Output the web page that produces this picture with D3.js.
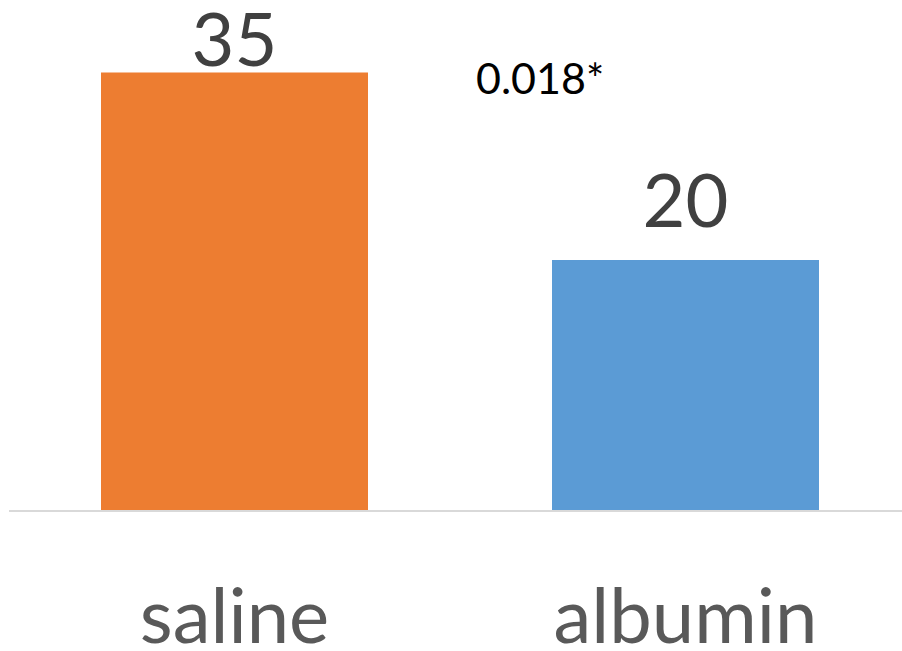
<!DOCTYPE html>
<html>
<head>
<meta charset="utf-8">
<script src="https://cdn.jsdelivr.net/npm/d3@7"></script>
<style>
  html, body { margin: 0; padding: 0; background: #fff; }
  svg { display: block; }
</style>
</head>
<body>
<svg id="chart" width="902" height="651"></svg>
<script>
const categories = ["saline", "albumin"];
const values = [35, 20];
const colors = ["#ED7D31", "#5B9BD5"];
const annotation = "0.018*";

const W = 902, H = 651;
const svg = d3.select("#chart");
const font = "Lato, 'Open Sans', sans-serif";

const x = d3.scaleBand().domain(categories).range([9, 911]).paddingInner(0.408).paddingOuter(0.204);
const y = d3.scaleLinear().domain([0, 40]).range([510, 10]);

svg.selectAll("rect.bar").data(categories).enter().append("rect")
  .attr("class", "bar")
  .attr("x", d => x(d))
  .attr("width", x.bandwidth())
  .attr("y", (d, i) => y(values[i]))
  .attr("height", (d, i) => y(0) - y(values[i]))
  .attr("fill", (d, i) => colors[i]);

// baseline axis
const axis = svg.append("g").attr("transform", `translate(0,${y(0) + 1})`)
  .call(d3.axisBottom(x).tickSize(0).tickFormat(""));
axis.select(".domain").attr("stroke", "#D9D9D9").attr("stroke-width", 2).attr("d", `M9,0H${W}`);

// value labels (clamped to stay inside the top of the chart)
svg.selectAll("text.val").data(categories).enter().append("text")
  .attr("class", "val")
  .attr("x", d => x(d) + x.bandwidth() / 2)
  .attr("y", (d, i) => Math.max(y(values[i]) - 33, 66))
  .attr("text-anchor", "middle")
  .attr("font-family", font)
  .attr("font-size", 74)
  .attr("fill", "#404040")
  .text((d, i) => values[i]);

// category labels
svg.selectAll("text.cat").data(categories).enter().append("text")
  .attr("class", "cat")
  .attr("x", d => x(d) + x.bandwidth() / 2)
  .attr("y", 643)
  .attr("text-anchor", "middle")
  .attr("font-family", font)
  .attr("font-size", 76)
  .attr("fill", "#595959")
  .text(d => d);

// annotation
svg.append("text")
  .attr("x", 476)
  .attr("y", 94)
  .attr("font-family", font)
  .attr("font-size", 43)
  .attr("fill", "#000")
  .text(annotation);
</script>
</body>
</html>
